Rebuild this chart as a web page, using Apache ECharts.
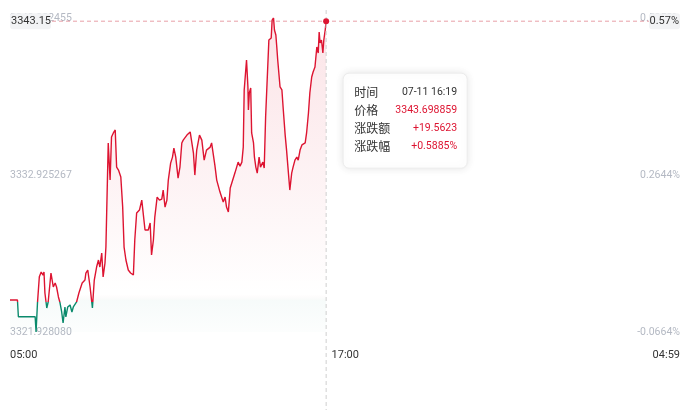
<!DOCTYPE html>
<html><head><meta charset="utf-8">
<script src="https://cdn.jsdelivr.net/npm/echarts@6/dist/echarts.min.js"></script>
<style>html,body{margin:0;padding:0;background:#fff}#c{width:698px;height:410px}</style>
</head><body><div id="c"></div>
<script>
// ---------- data ----------
const times = [
'05:00','05:16','05:18','05:54','05:56','05:59','06:03','06:07','06:11','06:13',
'06:15','06:19','06:22','06:28','06:33','06:37','06:40','06:44','06:47','06:51',
'06:54','06:58','07:00','07:04','07:09','07:13','07:16','07:20','07:23','07:28',
'07:35','07:41','07:43','07:47','07:52','07:57','08:01','08:06','08:10','08:13',
'08:17','08:20','08:24','08:26','08:29','08:31','08:35','08:38','08:42','08:46',
'08:49','08:53','08:58','09:02','09:05','09:09','09:14','09:19','09:25','09:28',
'09:32','09:38','09:43','09:46','09:50','09:57','10:01','10:04','10:08','10:11',
'10:16','10:21','10:26','10:29','10:33','10:37','10:40','10:45','10:49','10:52',
'10:56','11:01','11:05','11:09','11:12','11:16','11:20','11:23','11:27','11:30',
'11:34','11:37','11:41','11:47','11:48','11:52','11:57','12:02','12:10','12:13',
'12:17','12:20','12:24','12:27','12:31','12:35','12:38','12:42','12:45','12:49',
'12:53','12:57','13:03','13:07','13:10','13:14','13:18','13:21','13:23','13:28',
'13:31','13:32','13:34','13:37','13:39','13:43','13:45','13:48','13:51','13:55',
'13:58','14:03','14:06','14:09','14:13','14:16','14:21','14:23','14:26','14:28',
'14:31','14:33','14:35','14:40','14:44','14:47','14:51','14:54','14:58','15:01',
'15:05','15:08','15:12','15:16','15:19','15:23','15:27','15:30','15:34','15:37',
'15:41','15:44','15:48','15:51','15:55','15:59','16:02','16:04','16:06','16:09',
'16:12','16:14','16:17','16:19'
];
const prices = [
3324.17,3324.17,3323.00,3323.00,3321.93,3323.96,3325.80,3326.13,3325.92,3326.13,
3324.66,3323.61,3324.03,3326.06,3325.08,3325.36,3325.08,3324.38,3324.03,3323.33,
3322.56,3323.68,3322.98,3323.68,3323.82,3323.33,3323.68,3323.54,3324.03,3324.66,
3325.36,3325.57,3326.06,3326.27,3325.08,3323.61,3325.57,3326.48,3326.97,3326.48,
3327.46,3325.78,3326.76,3327.88,3328.02,3335.17,3332.57,3335.59,3335.87,3336.08,
3333.48,3333.27,3332.78,3330.68,3327.88,3326.97,3326.27,3326.06,3325.92,3328.37,
3330.26,3330.47,3331.17,3331.03,3329.07,3329.07,3329.56,3327.32,3328.37,3329.98,
3331.38,3331.17,3331.24,3331.87,3330.68,3331.17,3332.57,3333.76,3334.18,3334.81,
3334.18,3332.71,3333.48,3335.17,3335.37,3335.23,3335.72,3335.59,3335.94,3335.80,
3334.46,3332.92,3334.67,3335.72,3335.80,3335.37,3333.97,3334.67,3334.88,3335.17,
3335.03,3333.62,3332.57,3332.50,3331.73,3331.66,3331.03,3331.38,3330.68,3330.33,
3332.01,3331.87,3333.06,3332.92,3333.83,3333.55,3333.83,3334.88,3338.88,3340.98,
3339.09,3337.48,3338.67,3339.02,3335.87,3335.17,3334.18,3333.48,3333.06,3334.18,
3333.48,3333.83,3333.41,3336.99,3336.92,3342.38,3342.52,3343.78,3343.922455,3343.08,
3342.73,3341.89,3340.98,3339.09,3338.88,3337.48,3335.72,3334.67,3333.06,3331.87,
3333.06,3333.48,3333.97,3334.18,3333.97,3334.67,3335.03,3335.03,3335.17,3335.87,
3337.27,3338.67,3339.79,3340.14,3340.49,3341.89,3341.47,3342.94,3342.17,3342.38,
3341.47,3342.38,3343.08,3343.698859
];
const yTickLabels = ['3321.928080', '3332.925267', '3343.922455'];
const pctTickLabels = ['-0.0664%', '0.2644%', '0.5952%'];
const xTickLabels = ['05:00', '17:00', '04:59'];
const yMin = 3321.928080;
const yMax = 3343.922455;
const preClose = 3324.136559;
const tipDate = '07-11';
const cursorPriceLabel = '3343.15';
const cursorPctLabel = '0.57%';

// ---------- categories: one per minute, 05:00 .. 04:59 ----------
const categories = [];
for (let m = 0; m < 1440; m++) {
  const t = (300 + m) % 1440;
  categories.push(String(Math.floor(t / 60)).padStart(2, '0') + ':' + String(t % 60).padStart(2, '0'));
}
const seriesData = times.map((t, i) => [categories.indexOf(t), prices[i]]);

const RED = '#dd1431', GREEN = '#0b8a6c';
const GRID_L = 10, GRID_R = 18, GRID_T = 18, GRID_B = 78;
const NUMFONT = 'Roboto, "Noto Sans CJK SC", sans-serif';
const CJKFONT = '"Noto Sans CJK SC", sans-serif';

// split point (fraction from top) between red (above pre-close) and green (below)
const dataMax = Math.max.apply(null, prices), dataMin = Math.min.apply(null, prices);
const areaSplit = (dataMax - preClose) / (dataMax - yMin);
const lineSplit = (dataMax - preClose) / (dataMax - dataMin);

const chart = echarts.init(document.getElementById('c'), null, {renderer: 'canvas'});
chart.setOption({
  animation: false,
  backgroundColor: '#fff',
  grid: {left: GRID_L, right: GRID_R, top: GRID_T, bottom: GRID_B, containLabel: false},
  xAxis: {
    type: 'category', data: categories, boundaryGap: false,
    axisLine: {show: false}, axisTick: {show: false}, splitLine: {show: false},
    axisLabel: {
      interval: (idx, val) => xTickLabels.indexOf(val) >= 0,
      color: '#333', fontSize: 11, fontFamily: NUMFONT, margin: 18,
      alignMinLabel: 'left', alignMaxLabel: 'right', showMinLabel: true, showMaxLabel: true,
      hideOverlap: false
    }
  },
  yAxis: [{
    type: 'value', position: 'left', min: yMin, max: yMax, interval: (yMax - yMin) / 2,
    axisLine: {show: false}, axisTick: {show: false}, splitLine: {show: false},
    axisLabel: {inside: true, margin: 0, color: '#b4b9c3', fontSize: 10.5, fontFamily: NUMFONT,
      padding: [6, 0, 0, 0], formatter: (v, i) => yTickLabels[i]}
  }, {
    type: 'value', position: 'right', min: yMin, max: yMax, interval: (yMax - yMin) / 2,
    axisLine: {show: false}, axisTick: {show: false}, splitLine: {show: false},
    axisLabel: {inside: true, margin: 0, color: '#b4b9c3', fontSize: 10.5, fontFamily: NUMFONT,
      padding: [6, 0, 0, 0], formatter: (v, i) => pctTickLabels[i]}
  }],
  series: [{
    type: 'line', data: seriesData, showSymbol: false, symbol: 'none',
    lineStyle: {
      width: 1.4,
      color: new echarts.graphic.LinearGradient(0, 0, 0, 1, [
        {offset: 0, color: RED}, {offset: lineSplit, color: RED},
        {offset: lineSplit, color: GREEN}, {offset: 1, color: GREEN}
      ])
    },
    areaStyle: {
      color: new echarts.graphic.LinearGradient(0, 0, 0, 1, [
        {offset: 0, color: 'rgba(222,22,50,0.17)'},
        {offset: areaSplit * 0.6, color: 'rgba(222,22,50,0.07)'},
        {offset: areaSplit - 0.02, color: 'rgba(222,22,50,0.0)'},
        {offset: areaSplit, color: 'rgba(11,138,108,0.05)'},
        {offset: 1, color: 'rgba(11,138,108,0.015)'}
      ])
    }
  }]
});

// ---------- cursor / tooltip (positions from the library's scales) ----------
const lastItem = seriesData[seriesData.length - 1];
const lastPrice = lastItem[1];
const p = chart.convertToPixel({xAxisIndex: 0, yAxisIndex: 0}, lastItem);
const W = chart.getWidth();
const H = chart.getHeight();
const xL = GRID_L, xR = W - GRID_R;
const chg = lastPrice - preClose;
const chgPct = chg / preClose * 100;
const sign = v => (v >= 0 ? '+' : '');
const tipRows = [
  ['时间', tipDate + ' ' + categories[lastItem[0]], '#333'],
  ['价格', lastPrice.toFixed(6), RED],
  ['涨跌额', sign(chg) + chg.toFixed(4), RED],
  ['涨跌幅', sign(chgPct) + chgPct.toFixed(4) + '%', RED]
];
const tx = p[0] + 17, ty = p[1] + 52, tw = 124, th = 95;
const tipChildren = [{
  type: 'rect', shape: {x: 0, y: 0, width: tw, height: th, r: 6},
  style: {fill: '#fff', stroke: '#ececec', lineWidth: 1, shadowBlur: 8, shadowColor: 'rgba(0,0,0,0.10)'}
}];
tipRows.forEach((r, i) => {
  tipChildren.push({type: 'text', x: 11, y: 19 + i * 18,
    style: {text: r[0], fill: '#333', font: '12px ' + CJKFONT, verticalAlign: 'middle', align: 'left'}});
  tipChildren.push({type: 'text', x: tw - 10, y: 19 + i * 18,
    style: {text: r[1], fill: r[2], font: '10.5px ' + NUMFONT, verticalAlign: 'middle', align: 'right'}});
});

chart.setOption({
  graphic: [
    {type: 'line', z: 100, shape: {x1: p[0], y1: 10, x2: p[0], y2: H},
      style: {stroke: '#cfcfcf', lineWidth: 1, lineDash: [4, 3]}},
    {type: 'line', z: 100, shape: {x1: xL, y1: p[1], x2: xR, y2: p[1]},
      style: {stroke: 'rgba(214,80,95,0.55)', lineWidth: 1, lineDash: [4, 3]}},
    {type: 'circle', z: 101, shape: {cx: p[0], cy: p[1], r: 3}, style: {fill: RED}},
    {type: 'rect', z: 102, shape: {x: xL, y: p[1] - 8, width: 41, height: 16, r: 3}, style: {fill: '#f2f3f5'}},
    {type: 'text', z: 103, x: xL + 1, y: p[1], style: {text: cursorPriceLabel, fill: '#333', font: '11px ' + NUMFONT, verticalAlign: 'middle', align: 'left'}},
    {type: 'rect', z: 102, shape: {x: xR - 31, y: p[1] - 8, width: 31, height: 16, r: 3}, style: {fill: '#f2f3f5'}},
    {type: 'text', z: 103, x: xR - 1, y: p[1], style: {text: cursorPctLabel, fill: '#333', font: '11px ' + NUMFONT, verticalAlign: 'middle', align: 'right'}},
    {type: 'group', z: 110, x: tx, y: ty, children: tipChildren}
  ]
});
</script>
</body></html>
